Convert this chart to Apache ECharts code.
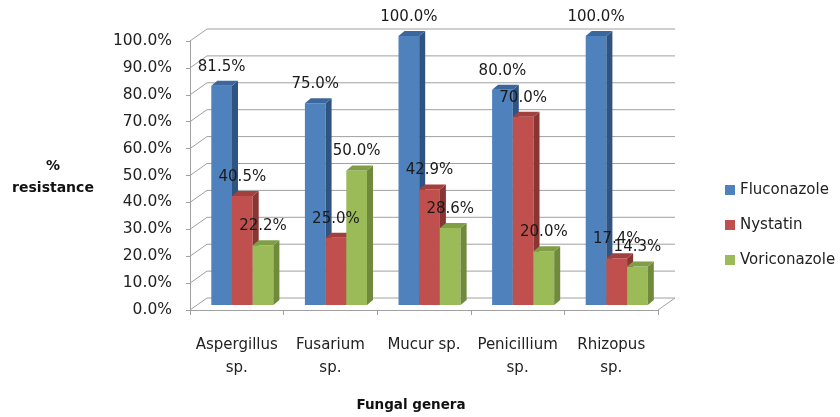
<!DOCTYPE html>
<html>
<head>
<meta charset="utf-8">
<script src="https://cdn.jsdelivr.net/npm/echarts@6/dist/echarts.min.js"></script>
<style>
  html, body { margin: 0; padding: 0; background: #fff; }
  #chart { width: 840px; height: 417px; }
</style>
</head>
<body>
<div id="chart"></div>
<script>
const categories = ['Aspergillus\nsp.', 'Fusarium\nsp.', 'Mucur sp.', 'Penicillium\nsp.', 'Rhizopus\nsp.'];
const fluconazole = [81.5, 75.0, 100.0, 80.0, 100.0];
const nystatin = [40.5, 25.0, 42.9, 70.0, 17.4];
const voriconazole = [22.2, 50.0, 28.6, 20.0, 14.3];
const yTicks = [0, 10, 20, 30, 40, 50, 60, 70, 80, 90, 100];

const FONT = '"DejaVu Sans", sans-serif';
// fake 3d: back wall offset and bar depth
const WALL_DX = 17, WALL_DY = 12;
const BAR_W = 20.7, BAR_DX = 6, BAR_DY = 5, BAR_LIFT = 5, CLUSTER_OFF = -25.5;

const palette = [
  { front: '#4F81BD', side: '#2F5481', top: '#3C679C' },
  { front: '#C0504D', side: '#883533', top: '#A2403D' },
  { front: '#9BBB59', side: '#6E8A3A', top: '#809E46' }
];

function gridRenderer(params, api) {
  const v = api.value(1);
  const band = api.size([1, 0])[0];
  const p = api.coord([0, v]);
  const xl = p[0] - band / 2;
  const xr = api.coord([categories.length - 1, v])[0] + band / 2;
  const y = p[1];
  const pts = [[xl, y], [xl + WALL_DX, y - WALL_DY], [xr + WALL_DX, y - WALL_DY]];
  if (v === 0) pts.push([xr, y]);
  return {
    type: 'polyline',
    shape: { points: pts },
    style: { stroke: '#A0A0A0', lineWidth: 1, fill: null }
  };
}

function barRenderer(idx) {
  const c = palette[idx];
  return function (params, api) {
    const cat = api.value(0), v = api.value(1);
    const base = api.coord([cat, 0]);
    const top = api.coord([cat, v]);
    const x0 = base[0] + CLUSTER_OFF + idx * BAR_W, x1 = x0 + BAR_W;
    const yb = base[1] - BAR_LIFT, yt = top[1] - BAR_LIFT;
    return {
      type: 'group',
      children: [
        { type: 'polygon', shape: { points: [[x0, yb], [x1, yb], [x1, yt], [x0, yt]] }, style: { fill: c.front } },
        { type: 'polygon', shape: { points: [[x1, yb], [x1 + BAR_DX, yb - BAR_DY], [x1 + BAR_DX, yt - BAR_DY], [x1, yt]] }, style: { fill: c.side } },
        { type: 'polygon', shape: { points: [[x0, yt], [x1, yt], [x1 + BAR_DX, yt - BAR_DY], [x0 + BAR_DX, yt - BAR_DY]] }, style: { fill: c.top } },
        {
          type: 'text', z2: 100,
          style: {
            text: v.toFixed(1) + '%', x: (x0 + x1) / 2, y: yt - 19,
            align: 'center', verticalAlign: 'middle',
            fontSize: 15, fontFamily: FONT, fill: '#1a1a1a'
          }
        }
      ]
    };
  };
}

function barSeries(name, values, idx) {
  return {
    name: name,
    type: 'custom',
    clip: false,
    z: 3,
    itemStyle: { color: palette[idx].front },
    renderItem: barRenderer(idx),
    encode: { x: 0, y: 1 },
    data: values.map((v, i) => [i, v])
  };
}

const chart = echarts.init(document.getElementById('chart'));
const option = {
  animation: false,
  grid: { left: 190, right: 182, top: 41, bottom: 107 },
  legend: {
    orient: 'vertical',
    left: 720, top: 175,
    icon: 'rect', itemWidth: 10, itemHeight: 10, itemGap: 15,
    textStyle: { fontSize: 15, fontFamily: FONT, color: '#222', lineHeight: 20 },
    data: [
      { name: 'Fluconazole', itemStyle: { color: palette[0].front } },
      { name: 'Nystatin', itemStyle: { color: palette[1].front } },
      { name: 'Voriconazole', itemStyle: { color: palette[2].front } }
    ]
  },
  graphic: [
    {
      type: 'text', x: 53, y: 155,
      style: { text: '%\nresistance', align: 'center', fontSize: 14, fontWeight: 'bold', fontFamily: FONT, fill: '#111', lineHeight: 22 }
    },
    {
      type: 'text', x: 411, y: 398,
      style: { text: 'Fungal genera', align: 'center', fontSize: 13.5, fontWeight: 'bold', fontFamily: FONT, fill: '#111' }
    }
  ],
  xAxis: {
    type: 'category',
    data: categories,
    axisLine: { lineStyle: { color: '#A0A0A0' } },
    axisTick: { show: true, interval: 0, length: 5, lineStyle: { color: '#A0A0A0' } },
    axisLabel: { interval: 0, margin: 24, fontSize: 15, fontFamily: FONT, color: '#222', lineHeight: 23 },
    splitLine: { show: false }
  },
  yAxis: {
    type: 'value',
    min: 0, max: 100, interval: 10,
    axisLine: { show: true, lineStyle: { color: '#A0A0A0' } },
    axisTick: { show: true, length: 4, lineStyle: { color: '#A0A0A0' } },
    axisLabel: { margin: 18, fontSize: 15.5, fontFamily: FONT, color: '#222', formatter: v => v.toFixed(1) + '%' },
    splitLine: { show: false }
  },
  series: [
    {
      type: 'custom',
      name: 'grid',
      silent: true,
      clip: false,
      z: 1,
      renderItem: gridRenderer,
      encode: { x: 0, y: 1 },
      data: yTicks.map(t => [0, t])
    },
    barSeries('Fluconazole', fluconazole, 0),
    barSeries('Nystatin', nystatin, 1),
    barSeries('Voriconazole', voriconazole, 2)
  ]
};
chart.setOption(option);
</script>
</body>
</html>
